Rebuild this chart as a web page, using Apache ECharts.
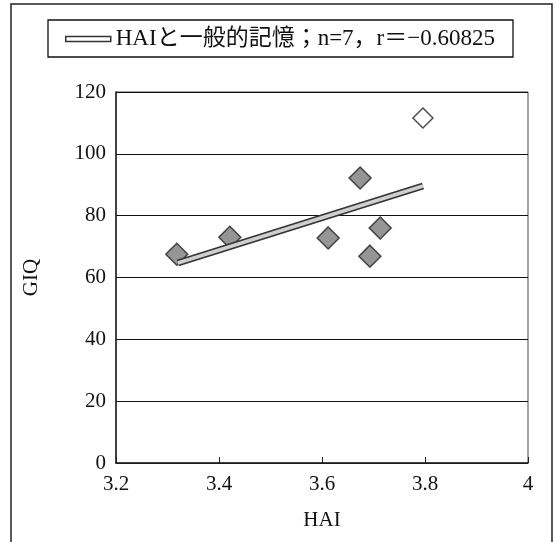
<!DOCTYPE html>
<html><head><meta charset="utf-8">
<script src="https://cdn.jsdelivr.net/npm/echarts@6/dist/echarts.min.js"></script>
<style>html,body{margin:0;padding:0;background:#fff}#c{width:556px;height:542px}</style>
</head><body><div id="c"></div>
<script>
var hai = [3.318, 3.421, 3.612, 3.674, 3.693, 3.713, 3.796];
var giq = [67.5, 73, 72.8, 92.2, 66.9, 76, 111.6];
var trendX = [3.32, 3.796];
var trendY = [64.7, 89.6];
var yTicks = [0, 20, 40, 60, 80, 100, 120];
var xTicks = [3.2, 3.4, 3.6, 3.8, 4];
var legendName = 'HAIと一般的記憶；n=7，r＝−0.60825';

var FONT = '"Liberation Serif", "DejaVu Serif", "Noto Sans CJK JP", serif';
var pts = hai.map(function(x, i){
  var p = {value:[x, giq[i]]};
  if (i === hai.length - 1) {
    p.symbolSize = 20;
    p.itemStyle = {color:'#fff', borderColor:'#222', borderWidth:1.5};
  }
  return p;
});
var trend = trendX.map(function(x,i){return [x, trendY[i]];});

var chart = echarts.init(document.getElementById('c'), null, {renderer:'canvas'});
chart.setOption({
  animation:false,
  backgroundColor:'#fff',
  textStyle:{fontFamily:FONT},
  graphic:[
    {type:'rect', shape:{x:11, y:4, width:541, height:545}, style:{fill:'none', stroke:'#222', lineWidth:1.5}, silent:true},
    {type:'rect', shape:{x:48, y:20, width:465, height:37}, style:{fill:'none', stroke:'#111', lineWidth:1.3}, silent:true}
  ],
  legend:{
    left:65, top:26, padding:0,
    itemWidth:45, itemHeight:5,
    textStyle:{fontSize:23, lineHeight:26, fontFamily:FONT, color:'#111'},
    data:[{name:legendName, icon:'rect', itemStyle:{color:'#fff', borderColor:'#333', borderWidth:1.5}}]
  },
  grid:{left:116, right:28, top:92, bottom:79, show:true, borderColor:'#444', borderWidth:1},
  xAxis:{
    type:'value', min:3.2, max:4, interval:0.2,
    name:'HAI', nameLocation:'middle', nameGap:47,
    nameTextStyle:{fontSize:21, color:'#111', fontFamily:FONT},
    axisLine:{show:true, lineStyle:{color:'#222', width:1.5}},
    axisTick:{show:true, inside:true, length:6, lineStyle:{color:'#222'}},
    axisLabel:{fontSize:21, color:'#111', margin:11, fontFamily:FONT,
      formatter:function(v){return String(Math.round(v*10)/10);}},
    splitLine:{show:false}
  },
  yAxis:{
    type:'value', min:0, max:120, interval:20,
    name:'GIQ', nameLocation:'middle', nameGap:74, nameRotate:90,
    nameTextStyle:{fontSize:21, color:'#111', fontFamily:FONT},
    axisLine:{show:true, lineStyle:{color:'#222', width:1.5}},
    axisTick:{show:false},
    axisLabel:{fontSize:21, color:'#111', margin:10, fontFamily:FONT, padding:[0,0,8,0]},
    splitLine:{show:true, lineStyle:{color:'#111', width:1.2}}
  },
  series:[
    {type:'scatter', name:'pts', symbol:'diamond', symbolSize:22, data:pts,
     itemStyle:{color:'#7a7a7a', borderColor:'#222', borderWidth:1.5}, z:3},
    {type:'line', name:legendName, data:trend, symbol:'none', silent:true,
     lineStyle:{color:'#333', width:7, cap:'butt'}, itemStyle:{color:'#fff'}, z:4},
    {type:'line', name:'trendInner', data:trend, symbol:'none', silent:true,
     lineStyle:{color:'#cfcfcf', width:3.5, cap:'butt'}, z:5}
  ]
});
</script></body></html>
